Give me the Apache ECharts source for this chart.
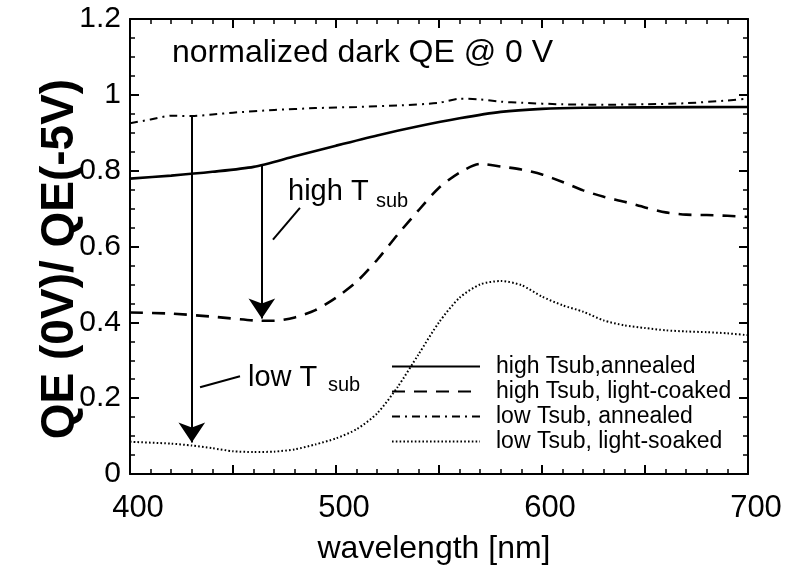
<!DOCTYPE html>
<html><head><meta charset="utf-8">
<script src="https://cdn.jsdelivr.net/npm/echarts@6/dist/echarts.min.js"></script>
<style>html,body{margin:0;padding:0;background:#fff}#c{width:796px;height:572px}</style>
</head><body><div id="c"></div>
<script>
// ---- data ----
const seriesNames = ['high Tsub,annealed', 'high Tsub, light-coaked', 'low Tsub, annealed', 'low Tsub, light-soaked'];
const wl_hiAnn = [400,420,440,460,480,500,520,540,560,580,600,620,650,700];
const qe_hiAnn = [0.779,0.787,0.797,0.81,0.838,0.866,0.893,0.917,0.938,0.955,0.963,0.966,0.967,0.968];
const wl_hiLS = [400,420,440,460,470,480,490,500,510,520,530,540,550,560,570,580,590,600,610,620,630,640,650,660,670,680,690,700];
const qe_hiLS = [0.426,0.423,0.415,0.405,0.404,0.413,0.432,0.465,0.507,0.565,0.632,0.695,0.755,0.795,0.818,0.811,0.803,0.79,0.77,0.748,0.731,0.718,0.703,0.69,0.684,0.683,0.681,0.678];
const wl_loAnn = [400,410,420,430,440,450,470,490,510,530,550,560,570,580,590,610,630,650,670,690,700];
const qe_loAnn = [0.925,0.935,0.945,0.944,0.948,0.953,0.96,0.965,0.968,0.972,0.979,0.99,0.988,0.982,0.979,0.975,0.974,0.975,0.978,0.985,0.99];
const wl_loLS = [400,420,430,440,450,460,470,480,490,500,510,520,530,540,550,560,570,580,590,600,610,620,630,640,650,660,670,680,690,700];
const qe_loLS = [0.085,0.08,0.075,0.068,0.06,0.058,0.059,0.065,0.078,0.094,0.118,0.16,0.23,0.315,0.4,0.465,0.5,0.509,0.498,0.468,0.445,0.428,0.405,0.392,0.385,0.379,0.376,0.374,0.371,0.366];
const xTicks = [400, 500, 600, 700];
const yTicks = [0, 0.2, 0.4, 0.6, 0.8, 1, 1.2];
// annotation arrows (wavelength, from QE, to QE)
const arrowWl = [430, 464];
const arrowFrom = [0.944, 0.813];
const arrowTo = [0.083, 0.41];
// leader lines for labels
const leaderFrom = [[482.5, 0.702], [453.4, 0.258]];
const leaderTo = [[469.4, 0.618], [434, 0.229]];
const titleText = 'normalized dark QE @ 0 V';
const xTitle = 'wavelength [nm]';
const yTitle = 'QE (0V)/ QE(-5V)';

const FONT = 'Liberation Sans, Arial, Helvetica, sans-serif';
const zip = (a, b) => a.map((v, i) => [v, b[i]]);

const chart = echarts.init(document.getElementById('c'), null, {renderer: 'canvas'});

const axisCommon = {
  type: 'value',
  axisLine: {show: true, onZero: false, lineStyle: {color: '#000', width: 2}},
  axisTick: {show: true, inside: true, length: 9, lineStyle: {color: '#000', width: 2}},
  minorTick: {show: true, length: 5, lineStyle: {color: '#000', width: 1.5}},
  splitLine: {show: false},
  minorSplitLine: {show: false}
};

const xBase = Object.assign({}, axisCommon, {min: 400, max: 700, interval: 50,
  minorTick: Object.assign({}, axisCommon.minorTick, {splitNumber: 5})});
const yBase = Object.assign({}, axisCommon, {min: 0, max: 1.2, interval: 0.2,
  minorTick: Object.assign({}, axisCommon.minorTick, {splitNumber: 4})});

const lineStyles = [
  {color: '#000', width: 2.6, type: 'solid'},
  {color: '#000', width: 2.6, type: [13, 9]},
  {color: '#000', width: 2, type: [8, 5, 2, 5]},
  {color: '#000', width: 2, type: [1.6, 2.2]}
];
const datas = [zip(wl_hiAnn, qe_hiAnn), zip(wl_hiLS, qe_hiLS), zip(wl_loAnn, qe_loAnn), zip(wl_loLS, qe_loLS)];

const series = seriesNames.map((n, i) => ({
  name: n, type: 'line', data: datas[i], showSymbol: false, symbol: 'none', symbolSize: 0,
  smooth: 0.25, lineStyle: lineStyles[i], itemStyle: {color: '#000'},
  xAxisIndex: 0, yAxisIndex: 0, z: 3 + i, silent: true
}));
series[0].markLine = {
  silent: true, symbol: ['none', 'arrow'], symbolSize: 20, animation: false,
  label: {show: false}, lineStyle: {color: '#000', width: 2, type: 'solid'},
  data: arrowWl.map((w, i) => [{coord: [w, arrowFrom[i]]}, {coord: [w, arrowTo[i]]}])
};
series[3].markLine = {
  silent: true, symbol: ['none', 'none'], animation: false,
  label: {show: false}, lineStyle: {color: '#000', width: 2, type: 'solid'},
  data: leaderFrom.map((p, i) => [{coord: p}, {coord: leaderTo[i]}])
};

chart.setOption({
  animation: false,
  backgroundColor: '#fff',
  grid: {left: 130, right: 48, top: 19, bottom: 98},
  xAxis: [
    Object.assign({}, xBase, {position: 'bottom',
      axisLabel: {show: true, color: '#000', fontSize: 31, fontFamily: FONT, margin: 19, padding: [0, 0, 0, 16],
        formatter: v => xTicks.indexOf(v) >= 0 ? String(v) : ''}}),
    Object.assign({}, xBase, {position: 'top', axisLabel: {show: false}})
  ],
  yAxis: [
    Object.assign({}, yBase, {position: 'left',
      axisLabel: {show: true, color: '#000', fontSize: 30, fontFamily: FONT, margin: 9,
        formatter: v => { const r = Math.round(v * 10) / 10; return yTicks.indexOf(r) >= 0 ? String(r) : ''; }}}),
    Object.assign({}, yBase, {position: 'right', axisLabel: {show: false}})
  ],
  legend: {
    data: seriesNames, orient: 'vertical', left: 391, top: 355, padding: 0,
    itemWidth: 88, itemHeight: 14, itemGap: 2,
    itemStyle: {opacity: 0},
    textStyle: {color: '#000', fontSize: 23, fontFamily: FONT, padding: [0, 0, 0, 11]},
    selectedMode: false
  },
  series: series
});

// annotation texts placed in data coordinates
const toPx = p => chart.convertToPixel({gridIndex: 0}, p);
const annos = [
  {text: titleText, at: [420.4, 1.11], size: 32},
  {text: 'high T', at: [476.7, 0.744], size: 29},
  {text: 'sub', at: [519.4, 0.72], size: 20},
  {text: 'low T', at: [457.3, 0.254], size: 29},
  {text: 'sub', at: [496.1, 0.233], size: 20}
];
const graphics = annos.map(a => {
  const p = toPx(a.at);
  return {type: 'text', x: p[0], y: p[1], silent: true, z: 10,
    style: {text: a.text, fill: '#000', font: a.size + 'px ' + FONT, align: 'left', verticalAlign: 'middle'}};
});
graphics.push({type: 'text', x: 434, y: 549, silent: true,
  style: {text: xTitle, fill: '#000', font: '32px ' + FONT, align: 'center', verticalAlign: 'middle'}});
graphics.push({type: 'text', x: 60, y: 259, rotation: Math.PI / 2, silent: true,
  style: {text: yTitle, fill: '#000', font: 'bold 46px ' + FONT, align: 'center', verticalAlign: 'middle'}});
chart.setOption({graphic: graphics});
</script>
</body></html>
